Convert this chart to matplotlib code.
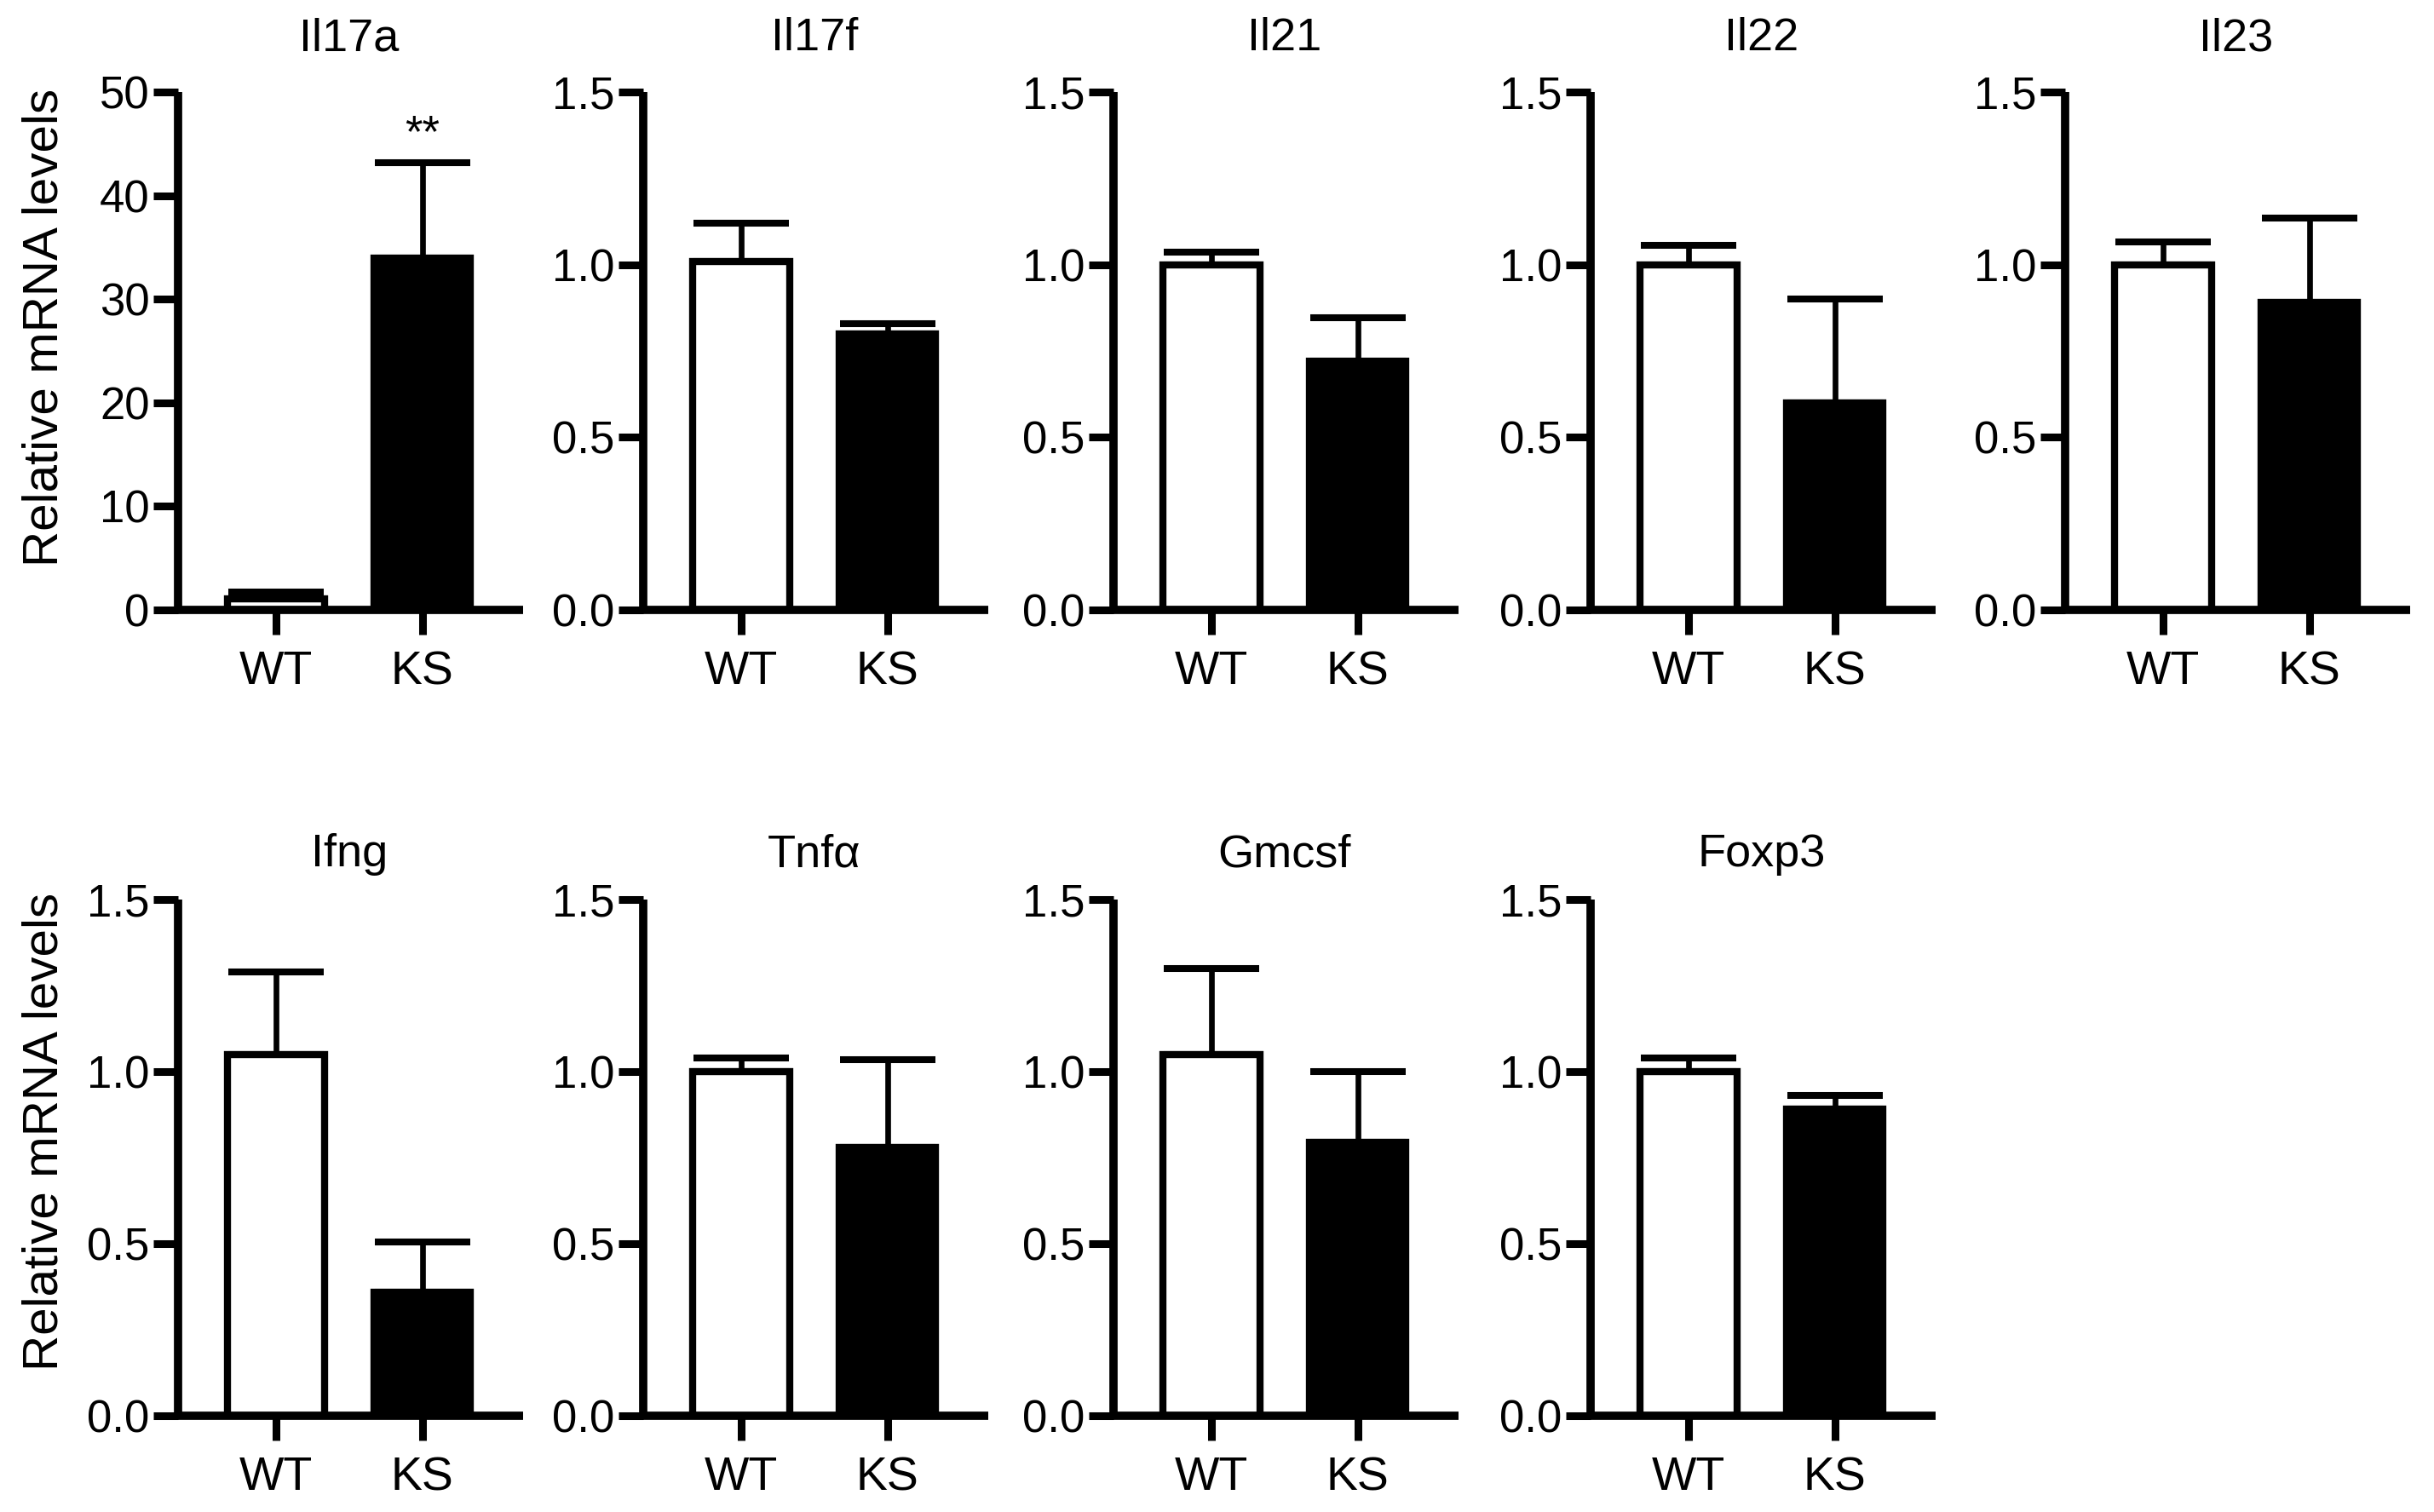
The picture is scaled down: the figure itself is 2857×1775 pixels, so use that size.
import matplotlib
matplotlib.use("Agg")
import matplotlib.pyplot as plt
import matplotlib.transforms as mtransforms

plt.rcParams['font.family'] = ['Liberation Sans', 'DejaVu Sans']

genes = ['Il17a', 'Il17f', 'Il21', 'Il22', 'Il23', 'Ifng', 'Tnfα', 'Gmcsf', 'Foxp3']
groups = ['WT', 'KS']
wt_mean = [1.05, 1.01, 1.0, 1.0, 1.0, 1.05, 1.0, 1.05, 1.0]
wt_err = [0.7, 0.11, 0.035, 0.055, 0.065, 0.24, 0.04, 0.25, 0.04]
ks_mean = [34.0, 0.80, 0.72, 0.60, 0.89, 0.36, 0.78, 0.795, 0.89]
ks_err = [9.2, 0.03, 0.125, 0.30, 0.245, 0.145, 0.255, 0.205, 0.04]
y_max = [50, 1.5, 1.5, 1.5, 1.5, 1.5, 1.5, 1.5, 1.5]
y_step = [10, 0.5, 0.5, 0.5, 0.5, 0.5, 0.5, 0.5, 0.5]
signif = ['**', '', '', '', '', '', '', '', '']
ylabel = 'Relative mRNA levels'

W, H = 2857, 1775
fig = plt.figure(figsize=(W / 100, H / 100), dpi=100)

lefts_px = [209, 755, 1307, 1867, 2424]
row_bottom_px = [716, 1662]
row_height_px = [608, 606]
title_off = [1.103, 1.087]
axw_px = 405

LW_SPINE = 7
for i, g in enumerate(genes):
    r = 0 if i < 5 else 1
    c = i if i < 5 else i - 5
    left = lefts_px[c] / W
    bottom = 1 - row_bottom_px[r] / H
    ax = fig.add_axes([left, bottom, axw_px / W, row_height_px[r] / H])
    xs = [0, 1]
    ax.bar(xs, [wt_mean[i], ks_mean[i]], width=0.66,
           color=['white', 'black'], edgecolor='black', linewidth=6, zorder=2)
    ax.errorbar(xs, [wt_mean[i], ks_mean[i]],
                yerr=[[0, 0], [wt_err[i], ks_err[i]]], fmt='none',
                ecolor='black', elinewidth=4.8, capsize=40, capthick=5.8, zorder=3)
    ax.set_xlim(-0.67, 1.69)
    ax.set_ylim(0, y_max[i])
    n = int(round(y_max[i] / y_step[i]))
    ticks = [k * y_step[i] for k in range(n + 1)]
    ax.set_yticks(ticks)
    if y_max[i] >= 10:
        ax.set_yticklabels([f'{t:.0f}' for t in ticks])
    else:
        ax.set_yticklabels([f'{t:.1f}' for t in ticks])
    ax.set_xticks(xs)
    ax.set_xticklabels(groups)
    for s in ['top', 'right']:
        ax.spines[s].set_visible(False)
    for s in ['left', 'bottom']:
        ax.spines[s].set_linewidth(LW_SPINE)
        ax.spines[s].set_capstyle('butt')
    ax.tick_params(axis='y', direction='out', length=21, width=6.5, pad=3, labelsize=38)
    ax.tick_params(axis='x', direction='out', length=21, width=6.5, pad=13, labelsize=40)
    trans = mtransforms.blended_transform_factory(ax.transData, ax.transAxes)
    ax.text(0.5, title_off[r], g, transform=trans, ha='center', va='center', fontsize=39)
    if signif[i]:
        ax.text(1, ks_mean[i] + ks_err[i] + 1.5, signif[i], ha='center',
                va='baseline', fontsize=38)

fig.text(53 / W, 1 - 384 / H, ylabel, rotation=90, ha='center', va='center', fontsize=42)
fig.text(53 / W, 1 - 1328 / H, ylabel, rotation=90, ha='center', va='center', fontsize=42)

fig.savefig('out.png', dpi=100, facecolor='white')
